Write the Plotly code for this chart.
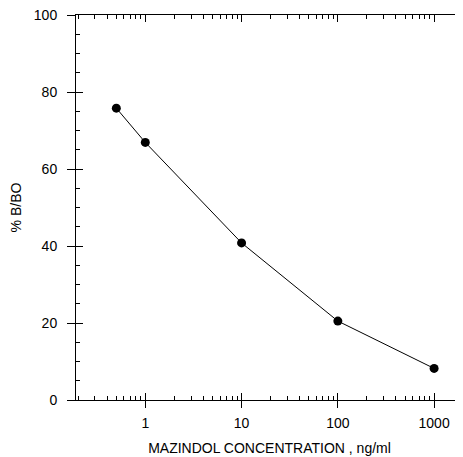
import plotly.graph_objects as go

# Data
concentration = [0.5, 1, 10, 100, 1000]
pct_b_bo = [75.8, 66.9, 40.8, 20.5, 8.2]

x_major = [1, 10, 100, 1000]
x_major_labels = ["1", "10", "100", "1000"]
x_minor = [0.2, 0.3, 0.4, 0.5, 0.6, 0.7, 0.8, 0.9,
           2, 3, 4, 5, 6, 7, 8, 9,
           20, 30, 40, 50, 60, 70, 80, 90,
           200, 300, 400, 500, 600, 700, 800, 900]
y_major = [0, 20, 40, 60, 80, 100]

X_RANGE = [-0.72, 3.30]
Y_RANGE = [0, 100]
FONT = "Liberation Sans, Arial, sans-serif"

fig = go.Figure()
fig.add_trace(go.Scatter(
    x=concentration, y=pct_b_bo, mode="lines+markers",
    line=dict(color="black", width=1),
    marker=dict(color="black", size=9),
    showlegend=False, cliponaxis=False,
))
# invisible helper trace so the overlay axes (outer tick halves) are drawn
fig.add_trace(go.Scatter(x=[concentration[0]], y=[pct_b_bo[0]], xaxis="x2", yaxis="y2",
                         mode="markers", marker=dict(opacity=0),
                         showlegend=False, hoverinfo="skip"))

tick = dict(showgrid=False, zeroline=False, tickcolor="black", tickwidth=1,
            automargin=False)
minor_x = dict(tickmode="array", tickvals=x_minor, ticks="inside",
               ticklen=4, tickcolor="black", tickwidth=1, showgrid=False)
minor_y = dict(dtick=5, ticks="inside", ticklen=4, tickcolor="black",
               tickwidth=1, showgrid=False)

fig.update_layout(
    width=463, height=457,
    margin=dict(l=68, r=8, t=7, b=65),
    plot_bgcolor="white", paper_bgcolor="white",
    font=dict(family=FONT, size=14, color="black"),
    xaxis=dict(
        type="log", range=X_RANGE, tickmode="array", tickvals=x_major,
        ticktext=x_major_labels, ticks="inside", ticklen=7,
        showline=True, mirror="allticks", linecolor="black", linewidth=1,
        minor=minor_x, ticklabeloverflow="allow",
        title=dict(text="MAZINDOL CONCENTRATION , ng/ml",
                   font=dict(size=14), standoff=13),
        ticklabelstandoff=10,
        **tick,
    ),
    xaxis2=dict(
        type="log", range=X_RANGE, overlaying="x", anchor="y2", side="bottom",
        tickmode="array", tickvals=x_major, ticks="outside", ticklen=7,
        showticklabels=False, showline=False, **tick,
    ),
    yaxis=dict(
        range=Y_RANGE, tickmode="array", tickvals=y_major,
        ticks="inside", ticklen=7, showline=True, mirror="allticks",
        linecolor="black", linewidth=1,
        minor=minor_y, ticklabeloverflow="allow",
        title=dict(text="% B/BO", font=dict(size=14), standoff=10),
        ticklabelstandoff=15,
        **tick,
    ),
    yaxis2=dict(
        range=Y_RANGE, overlaying="y", anchor="x2", side="left",
        tickmode="array", tickvals=y_major, ticks="outside", ticklen=8,
        showticklabels=False, showline=False, **tick,
    ),
)

fig.write_html("out.html")
